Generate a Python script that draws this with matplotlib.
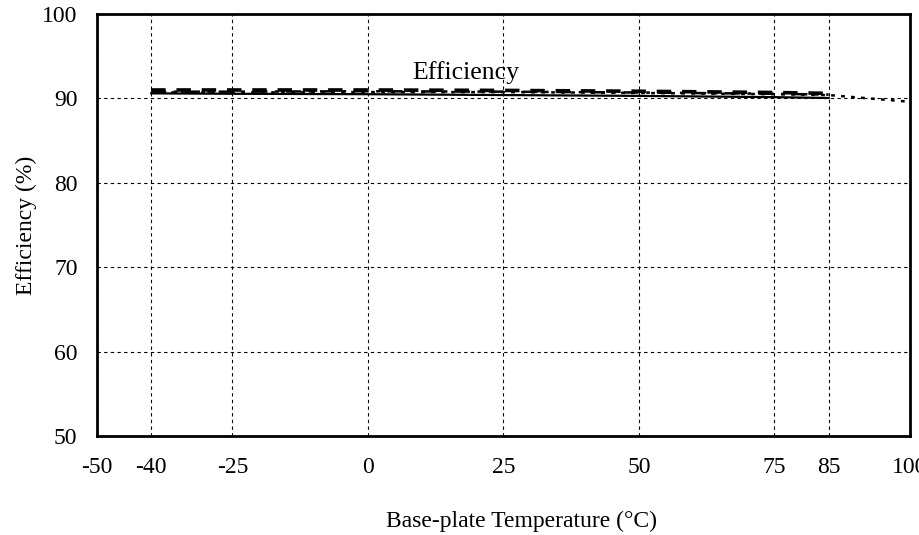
import matplotlib
matplotlib.use("Agg")
import matplotlib.pyplot as plt

# Base-plate temperature sweep, efficiency in percent
TEMPS = [-40, -25, 0, 25, 50, 75, 85]
TEMPS_EXT = [-40, -25, 0, 25, 50, 75, 85, 100]

EFF_SOLID = [90.6, 90.55, 90.5, 90.4, 90.3, 90.15, 90.05]
EFF_DASH = [91.0, 91.0, 91.0, 90.95, 90.85, 90.7, 90.6]
EFF_DASHDOT = [90.8, 90.8, 90.85, 90.8, 90.7, 90.55, 90.45]
EFF_DOT = [90.7, 90.7, 90.75, 90.75, 90.65, 90.5, 90.4, 89.6]

XTICKS = [-50, -40, -25, 0, 25, 50, 75, 85, 100]
YTICKS = [50, 60, 70, 80, 90, 100]

SERIF = ["Liberation Serif", "DejaVu Serif"]
plt.rcParams["font.family"] = SERIF
plt.rcParams["axes.unicode_minus"] = False

fig = plt.figure(figsize=(9.2, 5.35), dpi=100)
ax = fig.add_axes([0.1054, 0.185, 0.8837, 0.7888])

ax.plot(TEMPS, EFF_SOLID, color="black", lw=1.6, ls="-")
ax.plot(TEMPS, EFF_DASHDOT, color="black", lw=1.8, ls=(0, (6, 3, 1.5, 3)))
ax.plot(TEMPS, EFF_DASH, color="black", lw=2.6, ls=(0, (4, 3)))
ax.plot(TEMPS_EXT, EFF_DOT, color="black", lw=1.8, ls=(0, (1.5, 2.5)))

ax.text(18, 93.1, "Efficiency", ha="center", va="center", fontsize=18.5)

ax.set_xlim(-50, 100)
ax.set_ylim(50, 100)
ax.set_xticks(XTICKS)
ax.set_yticks(YTICKS)
ax.tick_params(axis="both", length=0, labelsize=17)
ax.tick_params(axis="x", pad=15)
ax.tick_params(axis="y", pad=14)
# the -40 and 85 labels sit a little higher than the rest
for t in ax.xaxis.get_major_ticks():
    if t.get_loc() in (-40, 85):
        t.set_pad(10)

ax.grid(True, color="black", lw=0.8, ls=(0, (3, 3)))
for s in ax.spines.values():
    s.set_linewidth(2.0)
    s.set_color("black")

ax.set_ylabel("Efficiency (%)", fontsize=17, labelpad=4)
fig.text(0.567, 0.005, "Base-plate Temperature (\u00b0C)", ha="center",
         va="bottom", fontsize=17)

fig.savefig("out.png", dpi=100, facecolor="white")
